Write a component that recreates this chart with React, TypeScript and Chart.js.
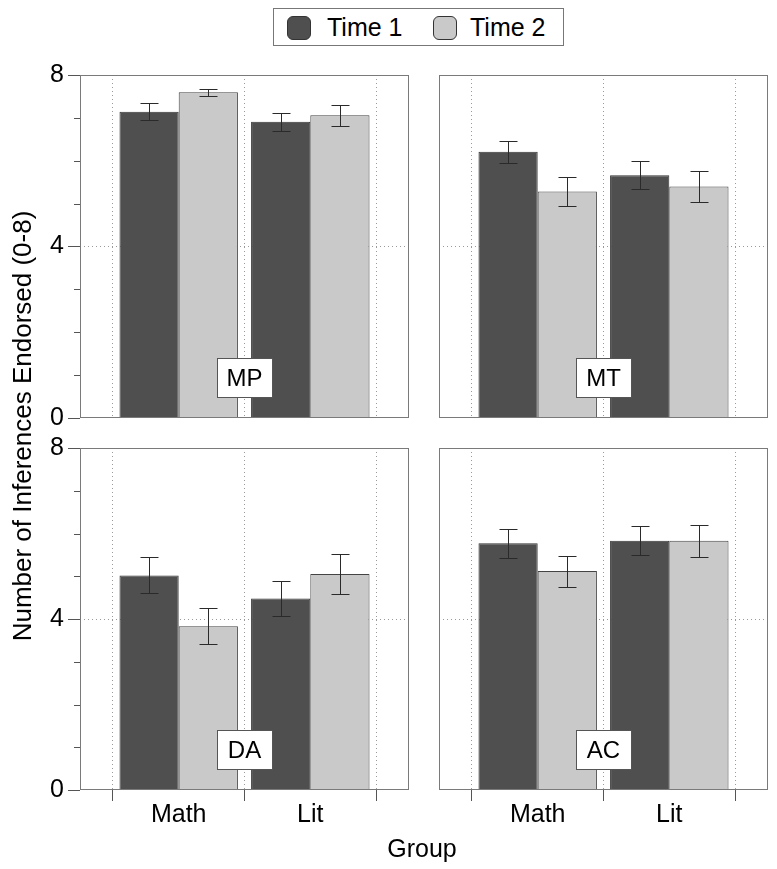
import React, { useEffect, useRef } from 'react';
import { Chart, registerables } from 'chart.js';

Chart.register(...registerables);

const FONT = "'Liberation Sans', Arial, Helvetica, sans-serif";

// ---- data ----
const groups = ['Math', 'Lit'];
const seriesNames = ['Time 1', 'Time 2'];
const seriesColors = ['#4f4f4f', '#c9c9c9'];
const yTickLabels = [0, 4, 8];
const yAxisTitle = 'Number of Inferences Endorsed (0-8)';
const xAxisTitle = 'Group';

const mpTime1 = [7.14, 6.91];
const mpTime1Err = [0.2, 0.21];
const mpTime2 = [7.6, 7.06];
const mpTime2Err = [0.08, 0.24];

const mtTime1 = [6.21, 5.66];
const mtTime1Err = [0.26, 0.33];
const mtTime2 = [5.28, 5.4];
const mtTime2Err = [0.33, 0.37];

const daTime1 = [5.02, 4.48];
const daTime1Err = [0.42, 0.4];
const daTime2 = [3.83, 5.05];
const daTime2Err = [0.42, 0.47];

const acTime1 = [5.77, 5.83];
const acTime1Err = [0.34, 0.34];
const acTime2 = [5.12, 5.83];
const acTime2Err = [0.36, 0.37];

// ---- layout ----
type PanelSpec = {
  label: string;
  t1: number[];
  e1: number[];
  t2: number[];
  e2: number[];
  left: number;
  top: number;
  width: number;
  height: number;
  padding: { left: number; right: number; top: number; bottom: number };
  showY: boolean;
  showX: boolean;
};

const panels: PanelSpec[] = [
  {
    label: 'MP', t1: mpTime1, e1: mpTime1Err, t2: mpTime2, e2: mpTime2Err,
    left: 0, top: 40, width: 420, height: 400,
    padding: { left: 0, right: 11, top: 35, bottom: 22 }, showY: true, showX: false,
  },
  {
    label: 'MT', t1: mtTime1, e1: mtTime1Err, t2: mtTime2, e2: mtTime2Err,
    left: 425, top: 40, width: 352, height: 400,
    padding: { left: 14, right: 9, top: 35, bottom: 22 }, showY: false, showX: false,
  },
  {
    label: 'DA', t1: daTime1, e1: daTime1Err, t2: daTime2, e2: daTime2Err,
    left: 0, top: 425, width: 420, height: 444,
    padding: { left: 0, right: 11, top: 23, bottom: 19 }, showY: true, showX: true,
  },
  {
    label: 'AC', t1: acTime1, e1: acTime1Err, t2: acTime2, e2: acTime2Err,
    left: 425, top: 425, width: 352, height: 444,
    padding: { left: 14, right: 9, top: 23, bottom: 19 }, showY: false, showX: true,
  },
];

const panelPlugin = {
  id: 'panelDeco',
  afterDatasetsDraw(chart: any, _args: any, opts: any) {
    const ctx = chart.ctx;
    const ys = chart.scales.y;
    ctx.save();
    ctx.strokeStyle = '#2a2a2a';
    ctx.lineWidth = 1;
    chart.data.datasets.forEach((ds: any, d: number) => {
      const meta = chart.getDatasetMeta(d);
      const errs = opts.errors[d];
      meta.data.forEach((el: any, i: number) => {
        const v = ds.data[i].y;
        const e = errs[i];
        const x = Math.round(el.x) + 0.5;
        const yTop = Math.round(ys.getPixelForValue(v + e)) + 0.5;
        const yBot = Math.round(ys.getPixelForValue(v - e)) + 0.5;
        ctx.beginPath();
        ctx.moveTo(x, yTop);
        ctx.lineTo(x, yBot);
        ctx.moveTo(x - 9, yTop);
        ctx.lineTo(x + 9, yTop);
        ctx.moveTo(x - 9, yBot);
        ctx.lineTo(x + 9, yBot);
        ctx.stroke();
      });
    });
    ctx.restore();
  },
  afterDraw(chart: any, _args: any, opts: any) {
    const ctx = chart.ctx;
    const a = chart.chartArea;
    const xs = chart.scales.x;
    const ys = chart.scales.y;
    ctx.save();
    // panel box
    ctx.strokeStyle = '#7a7a7a';
    ctx.lineWidth = 1;
    const l = Math.round(a.left) + 0.5;
    const t = Math.round(a.top) + 0.5;
    const r = Math.round(a.right) - 0.5;
    const b = Math.round(a.bottom) - 0.5;
    ctx.strokeRect(l, t, r - l, b - t);
    // minor y ticks
    if (opts.minor) {
      ctx.strokeStyle = '#555';
      for (let v = 0; v <= 8; v++) {
        if (yTickLabels.includes(v)) continue;
        const py = Math.round(ys.getPixelForValue(v)) + 0.5;
        ctx.beginPath();
        ctx.moveTo(a.left - 6, py);
        ctx.lineTo(a.left, py);
        ctx.stroke();
      }
    }
    // panel label
    const cx = xs.getPixelForValue(1);
    const cy = ys.getPixelForValue(0.95);
    const w = 55;
    const h = 39;
    const bx = Math.round(cx - w / 2) + 0.5;
    const by = Math.round(cy - h / 2) + 0.5;
    ctx.fillStyle = '#fff';
    ctx.fillRect(bx, by, w, h);
    ctx.strokeStyle = '#555';
    ctx.strokeRect(bx, by, w, h);
    ctx.fillStyle = '#000';
    ctx.font = `24px ${FONT}`;
    ctx.textAlign = 'center';
    ctx.textBaseline = 'alphabetic';
    ctx.fillText(opts.label, cx, cy + 8.5);
    ctx.restore();
  },
};

function Panel({ spec }: { spec: PanelSpec }) {
  const ref = useRef<HTMLCanvasElement | null>(null);
  useEffect(() => {
    if (!ref.current) return;
    const mk = (vals: number[]) => vals.map((v, i) => ({ x: i + 0.5, y: v }));
    const chart = new Chart(ref.current, {
      type: 'bar',
      data: {
        datasets: [
          {
            label: seriesNames[0],
            data: mk(spec.t1) as any,
            backgroundColor: seriesColors[0],
            borderColor: '#333',
            borderWidth: 1,
            categoryPercentage: 0.9,
            barPercentage: 1,
          },
          {
            label: seriesNames[1],
            data: mk(spec.t2) as any,
            backgroundColor: seriesColors[1],
            borderColor: '#444',
            borderWidth: 1,
            categoryPercentage: 0.9,
            barPercentage: 1,
          },
        ],
      },
      options: {
        responsive: false,
        animation: false,
        devicePixelRatio: 1,
        layout: { padding: spec.padding },
        plugins: {
          legend: { display: false },
          tooltip: { enabled: false },
          panelDeco: { errors: [spec.e1, spec.e2], label: spec.label, minor: spec.showY },
        } as any,
        scales: {
          x: {
            type: 'linear',
            min: -0.25,
            max: 2.25,
            offset: false,
            afterBuildTicks: (s: any) => {
              s.ticks = groups.map((_, i) => ({ value: i + 0.5 }));
            },
            afterFit: (s: any) => {
              s.height = spec.showX ? 60 : 0;
            },
            grid: {
              offset: true,
              color: '#9a9a9a',
              lineWidth: 1,
              drawTicks: spec.showX,
              tickLength: 11,
              tickColor: '#555',
              tickWidth: 1,
              tickBorderDash: [],
            },
            border: { display: false, dash: [1, 3] },
            ticks: {
              display: spec.showX,
              autoSkip: false,
              maxRotation: 0,
              padding: -1,
              color: '#000',
              font: { size: 25, family: FONT },
              callback: (_v: any, i: number) => groups[i],
            },
          } as any,
          y: {
            type: 'linear',
            min: 0,
            max: 8,
            afterFit: (s: any) => {
              s.width = spec.showY ? 80 : 0;
            },
            grid: {
              color: (c: any) => (c.tick && c.tick.value === 4 ? '#9a9a9a' : 'transparent'),
              lineWidth: 1,
              drawTicks: spec.showY,
              tickLength: 12,
              tickColor: (c: any) =>
                c.tick && yTickLabels.includes(c.tick.value) ? '#555' : 'transparent',
              tickBorderDash: [],
            },
            border: { display: false, dash: [1, 3] },
            ticks: {
              display: spec.showY,
              stepSize: 1,
              autoSkip: false,
              padding: 4,
              color: '#000',
              font: { size: 25, family: FONT },
              callback: (v: any) => (yTickLabels.includes(v) ? String(v) : ''),
            },
          } as any,
        },
      },
      plugins: [panelPlugin as any],
    });
    return () => chart.destroy();
  }, []);
  return (
    <canvas
      ref={ref}
      width={spec.width}
      height={spec.height}
      style={{
        position: 'absolute',
        left: spec.left,
        top: spec.top,
        width: spec.width,
        height: spec.height,
      }}
    />
  );
}

function Legend() {
  const text: React.CSSProperties = {
    position: 'absolute',
    top: 5.5,
    fontSize: 25,
    lineHeight: '25px',
    fontFamily: FONT,
    color: '#000',
    whiteSpace: 'nowrap',
  };
  const sw = (i: number, left: number): React.CSSProperties => ({
    position: 'absolute',
    left,
    top: 7,
    width: 24,
    height: 24,
    boxSizing: 'border-box',
    borderRadius: 6,
    background: seriesColors[i],
    border: '1px solid #333',
  });
  return (
    <div
      style={{
        position: 'absolute',
        left: 273,
        top: 8,
        width: 291,
        height: 38,
        boxSizing: 'border-box',
        border: '1px solid #777',
        background: '#fff',
      }}
    >
      <div style={sw(0, 13)} />
      <div style={{ ...text, left: 53 }}>{seriesNames[0]}</div>
      <div style={sw(1, 159)} />
      <div style={{ ...text, left: 196 }}>{seriesNames[1]}</div>
    </div>
  );
}

export default function App() {
  return (
    <div
      style={{
        position: 'absolute',
        left: 0,
        top: 0,
        width: 777,
        height: 869,
        background: '#fff',
        overflow: 'hidden',
        fontFamily: FONT,
      }}
    >
      <Legend />
      {panels.map((p) => (
        <Panel key={p.label} spec={p} />
      ))}
      <div
        style={{
          position: 'absolute',
          left: 22 - 240,
          top: 426 - 13,
          width: 480,
          height: 26,
          fontSize: 26,
          lineHeight: '26px',
          textAlign: 'center',
          transform: 'rotate(-90deg)',
          whiteSpace: 'nowrap',
          color: '#000',
        }}
      >
        {yAxisTitle}
      </div>
      <div
        style={{
          position: 'absolute',
          left: 322,
          top: 836,
          width: 200,
          fontSize: 25,
          lineHeight: '25px',
          textAlign: 'center',
          color: '#000',
        }}
      >
        {xAxisTitle}
      </div>
    </div>
  );
}
